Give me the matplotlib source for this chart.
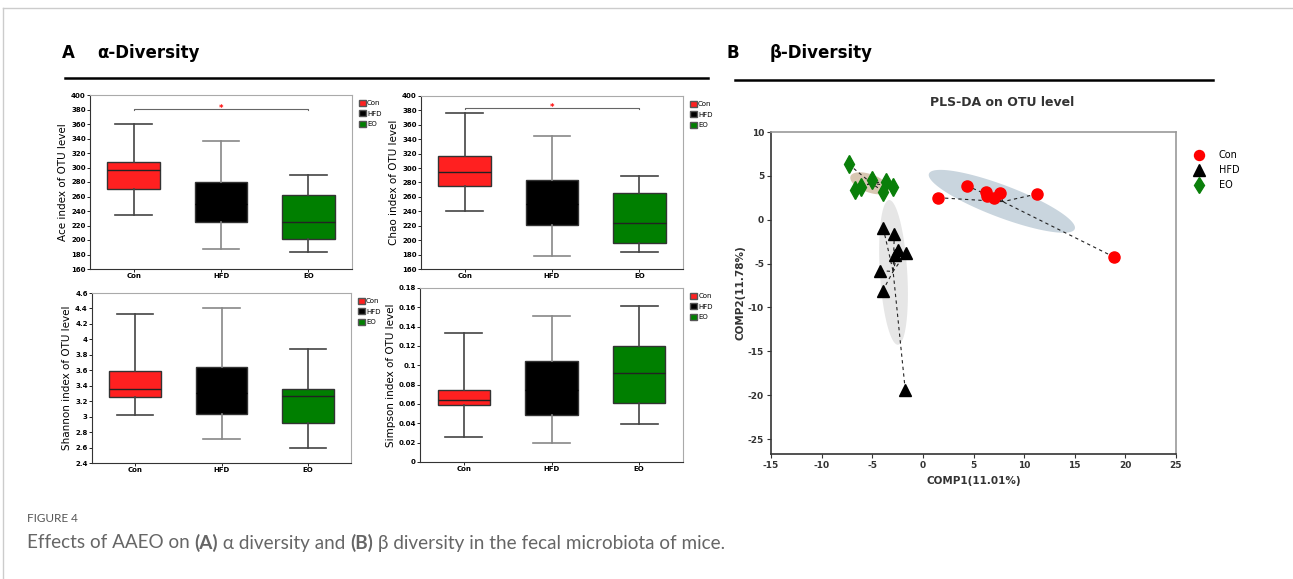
import numpy as np
import matplotlib
matplotlib.use('Agg')
import matplotlib.pyplot as plt
from matplotlib.patches import Patch, Polygon
from matplotlib.lines import Line2D
from matplotlib.ticker import FormatStrFormatter

plt.rcParams['axes.unicode_minus'] = False

# grupos e cores
grupos = ['Con', 'HFD', 'EO']
cores = ['#FF2020', '#000000', '#007F00']

# boxplots: [whisker_min, q1, mediana, q3, whisker_max] por grupo
ace = [[235, 271, 297, 307, 360], [187, 225, 250, 280, 336], [183, 202, 225, 262, 289]]
chao = [[240, 275, 295, 317, 377], [178, 221, 250, 283, 345], [183, 196, 224, 265, 289]]
shannon = [[3.02, 3.25, 3.36, 3.59, 4.33], [2.71, 3.03, 3.30, 3.64, 4.40], [2.60, 2.92, 3.27, 3.36, 3.87]]
simpson = [[0.026, 0.059, 0.064, 0.075, 0.133], [0.020, 0.049, 0.075, 0.105, 0.151], [0.039, 0.061, 0.092, 0.120, 0.161]]

# PLS-DA scores
con_x = [1.53, 4.33, 6.23, 6.30, 7.02, 7.62, 11.24, 18.88]
con_y = [2.51, 3.88, 3.12, 2.70, 2.51, 3.08, 2.93, -4.25]
hfd_x = [-3.91, -2.82, -2.43, -1.67, -2.75, -4.23, -3.97, -1.74]
hfd_y = [-0.98, -1.63, -3.45, -3.76, -4.02, -5.81, -8.09, -19.4]
eo_x = [-7.33, -6.70, -6.14, -5.02, -3.67, -3.91, -2.92]
eo_y = [6.32, 3.39, 3.76, 4.53, 4.34, 3.20, 3.76]

W, H = 1293, 579
fig = plt.figure(figsize=(W / 100, H / 100), dpi=100)


def rect(l, t, r, b):
    return [l / W, 1 - b / H, (r - l) / W, (b - t) / H]


def boxplot(pos, dados, ylabel, ylim, passo, sig=None):
    ax = fig.add_axes(rect(*pos))
    stats = []
    for i, d in enumerate(dados):
        stats.append(dict(whislo=d[0], q1=d[1], med=d[2], q3=d[3], whishi=d[4], label=grupos[i]))
    bp = ax.bxp(stats, positions=[1, 2, 3], widths=0.6, showfliers=False, patch_artist=True,
                capwidths=0.42)
    for i, caixa in enumerate(bp['boxes']):
        caixa.set_facecolor(cores[i])
        caixa.set_edgecolor('#333333')
        caixa.set_linewidth(1)
    for i, m in enumerate(bp['medians']):
        m.set_color('#000000' if i == 1 else '#222222')
        m.set_linewidth(1)
    for i, w in enumerate(bp['whiskers']):
        w.set_color('#888888' if i // 2 == 1 else '#444444')
        w.set_linewidth(1.2)
    for i, c in enumerate(bp['caps']):
        c.set_color('#888888' if i // 2 == 1 else '#444444')
        c.set_linewidth(1.2)
    ax.set_xlim(0.5, 3.5)
    ax.set_ylim(*ylim)
    ax.set_yticks(np.arange(ylim[0], ylim[1] + passo / 2, passo))
    ax.yaxis.set_major_formatter(FormatStrFormatter('%g'))
    ax.tick_params(labelsize=5, length=2, width=0.6, pad=1)
    for t in ax.get_xticklabels() + ax.get_yticklabels():
        t.set_fontweight('bold')
    ax.set_ylabel(ylabel, fontsize=7.5, labelpad=2)
    for s in ['left', 'bottom']:
        ax.spines[s].set_color('#333333')
        ax.spines[s].set_linewidth(0.8)
    for s in ['top', 'right']:
        ax.spines[s].set_color('#aaaaaa')
        ax.spines[s].set_linewidth(0.8)
    if sig is not None:
        ax.plot([1, 1, 3, 3], [sig - 2, sig, sig, sig - 2], color='#666666', lw=0.8)
        ax.text(2, sig, '*', color='red', fontsize=6, ha='center', va='center', fontweight='bold')
    handles = [Patch(facecolor=cores[i], edgecolor='#555555', label=grupos[i]) for i in range(3)]
    ax.legend(handles=handles, loc='upper left', bbox_to_anchor=(1.01, 1.0), frameon=False,
              fontsize=5, handlelength=0.9, handleheight=0.9, handletextpad=0.2, labelspacing=0.6,
              borderaxespad=0.3)
    return ax


boxplot((90, 95, 352, 269), ace, 'Ace index of OTU level', (160, 400), 20, sig=381)
boxplot((421, 96, 683, 269), chao, 'Chao index of OTU level', (160, 400), 20, sig=384)
boxplot((92, 293, 351, 463), shannon, 'Shannon index of OTU level', (2.4, 4.6), 0.2)
boxplot((420, 288, 683, 462), simpson, 'Simpson index of OTU level', (0, 0.18), 0.02)

# PLS-DA
ax = fig.add_axes(rect(771, 132, 1176, 454))
ax.set_xlim(-15, 25)
ax.set_ylim(-26.7, 10)


def elipse(cx, cy, a, b, cor):
    t = np.linspace(0, 2 * np.pi, 200)
    xs = cx + a[0] * np.cos(t) + b[0] * np.sin(t)
    ys = cy + a[1] * np.cos(t) + b[1] * np.sin(t)
    ax.add_patch(Polygon(np.column_stack([xs, ys]), closed=True, facecolor=cor, edgecolor='none', zorder=1))


elipse(7.8, 2.1, (7.2, -3.15), (0.56, 1.71), '#c9d5de')
elipse(-5.25, 4.15, (1.9, -0.8), (0.3, 0.97), '#d8c7b2')
elipse(-2.9, -6.0, (-0.44, 8.25), (1.35, 0.09), '#e6e6e6')

grupos_xy = [(con_x, con_y, 'o', 'red', 8), (hfd_x, hfd_y, '^', 'black', 9), (eo_x, eo_y, 'd', '#0a7f0a', 9)]
for xs, ys, mk, cor, ms in grupos_xy:
    cx, cy = np.mean(xs), np.mean(ys)
    for x, y in zip(xs, ys):
        ax.plot([x, cx], [y, cy], ls=(0, (3, 3)), color='#222222', lw=0.8, zorder=2)
for (xs, ys, mk, cor, ms), nome in zip(grupos_xy, grupos):
    ax.plot(xs, ys, mk, color=cor, ms=ms, mec=cor, ls='none', zorder=3, label=nome)

ax.set_xticks(np.arange(-15, 26, 5))
ax.set_yticks(np.arange(-25, 11, 5))
ax.tick_params(labelsize=6.5, length=3, width=0.8, colors='#333333', pad=2)
for t in ax.get_xticklabels() + ax.get_yticklabels():
    t.set_fontweight('bold')
for s in ['left', 'bottom']:
    ax.spines[s].set_color('#333333')
    ax.spines[s].set_linewidth(1.2)
for s in ['top', 'right']:
    ax.spines[s].set_color('#999999')
    ax.spines[s].set_linewidth(1.2)
ax.set_xlabel('COMP1(11.01%)', fontsize=7.5, fontweight='bold', color='#333333', labelpad=4)
ax.set_ylabel('COMP2(11.78%)', fontsize=7.5, fontweight='bold', color='#333333', labelpad=2)
fig.text(1002 / W, 1 - 102 / H, 'PLS-DA on OTU level', fontsize=9, fontweight='bold', color='#333333',
         ha='center', va='center')
ax.legend(loc='upper left', bbox_to_anchor=(1.01, 0.97), frameon=False, fontsize=7,
          handletextpad=1.1, labelspacing=0.5, markerscale=0.9)

# cabecalhos
fig.text(62 / W, 1 - 53 / H, 'A', fontsize=12, fontweight='bold', va='center')
fig.text(97 / W, 1 - 53 / H, 'α-Diversity', fontsize=12, fontweight='bold', va='center')
fig.text(727 / W, 1 - 53 / H, 'B', fontsize=12, fontweight='bold', va='center')
fig.text(770 / W, 1 - 53 / H, 'β-Diversity', fontsize=12, fontweight='bold', va='center')
fig.add_artist(Line2D([65 / W, 708 / W], [1 - 78 / H] * 2, color='black', lw=1.8))
fig.add_artist(Line2D([735 / W, 1213 / W], [1 - 80 / H] * 2, color='black', lw=1.8))

# moldura
fig.add_artist(Line2D([3 / W, 1], [1 - 8 / H] * 2, color='#cccccc', lw=1))
fig.add_artist(Line2D([3 / W, 3 / W], [0, 1 - 8 / H], color='#cccccc', lw=1))

# legenda da figura
fig.text(27 / W, 1 - 519 / H, 'FIGURE 4', fontsize=8.5, color='#555555', va='center', family='Lato')
pedacos = [('Effects of AAEO on ', 'normal'), ('(A)', 'bold'), (' α diversity and ', 'normal'),
           ('(B)', 'bold'), (' β diversity in the fecal microbiota of mice.', 'normal')]
fig.canvas.draw()
r = fig.canvas.get_renderer()
x = 27
for txt, peso in pedacos:
    t = fig.text(x / W, 1 - 543 / H, txt, fontsize=13.6, color='#666666', va='center', family='Lato',
                 fontweight=peso)
    x = t.get_window_extent(r).x1

fig.savefig('out.png', dpi=100)
